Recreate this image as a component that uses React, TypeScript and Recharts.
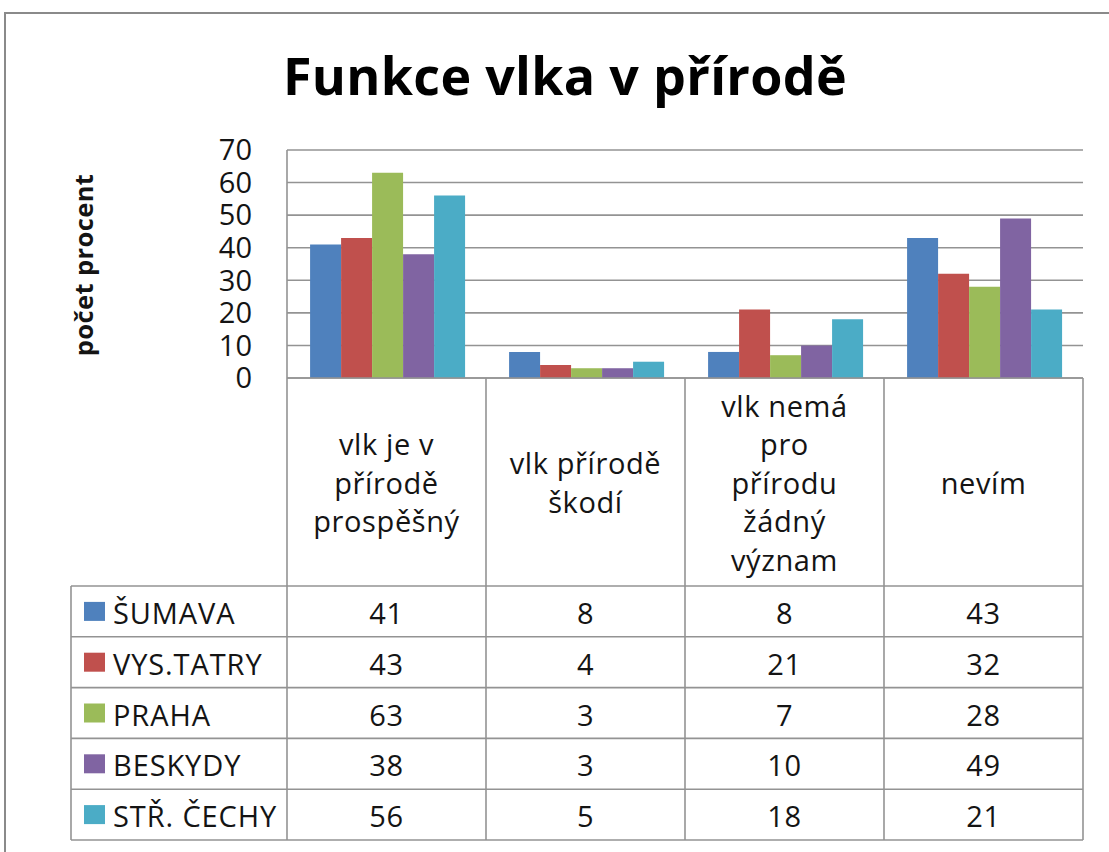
import React from 'react';
import { BarChart, Bar, XAxis, YAxis, CartesianGrid } from 'recharts';

const categories = [
  'vlk je v přírodě prospěšný',
  'vlk přírodě škodí',
  'vlk nemá pro přírodu žádný význam',
  'nevím',
];
const categoryLines = [
  ['vlk je v', 'přírodě', 'prospěšný'],
  ['vlk přírodě', 'škodí'],
  ['vlk nemá', 'pro', 'přírodu', 'žádný', 'význam'],
  ['nevím'],
];
const seriesNames = ['ŠUMAVA', 'VYS.TATRY', 'PRAHA', 'BESKYDY', 'STŘ. ČECHY'];
const sumava = [41, 8, 8, 43];
const vysTatry = [43, 4, 21, 32];
const praha = [63, 3, 7, 28];
const beskydy = [38, 3, 10, 49];
const strCechy = [56, 5, 18, 21];
const seriesValues = [sumava, vysTatry, praha, beskydy, strCechy];
const seriesColors = ['#4F81BD', '#C0504D', '#9BBB59', '#8064A2', '#4BACC6'];
const yTicks = [0, 10, 20, 30, 40, 50, 60, 70];

const data = categories.map((c, i) => {
  const row: Record<string, any> = { category: c };
  seriesNames.forEach((s, k) => {
    row[s] = seriesValues[k][i];
  });
  return row;
});

const FONT = '"Open Sans", sans-serif';
const LINE_COLOR = '#939393';
const TEXT_COLOR = '#141414';
const HEADER_H = 208;
const ROW_H = 50.8;
const LEGEND_W = 216;
const LINE_H = 38.5;

function TableTick(props: any) {
  const { x, y, payload, width } = props;
  const i: number = payload.index;
  const band: number = payload.offset ? payload.offset * 2 : width / categories.length;
  const left = x - band / 2;
  const right = x + band / 2;
  const top = y;
  const tableTop = top + HEADER_H;
  const bottom = tableTop + ROW_H * seriesNames.length;
  const lines = categoryLines[i] || [String(payload.value)];
  const midY = top + HEADER_H / 2;
  const textProps = {
    fontFamily: FONT,
    fontSize: 29,
    letterSpacing: 0.6,
    fill: TEXT_COLOR,
    textAnchor: 'middle' as const,
    dominantBaseline: 'central' as const,
  };
  const lineProps = { stroke: LINE_COLOR, strokeWidth: 1.6 };
  return (
    <g>
      <line x1={left} x2={left} y1={top} y2={bottom} {...lineProps} />
      {i === categories.length - 1 && (
        <line x1={right} x2={right} y1={top} y2={bottom} {...lineProps} />
      )}
      {lines.map((t, k) => (
        <text key={'h' + k} x={x} y={midY + (k - (lines.length - 1) / 2) * LINE_H} {...textProps}>
          {t}
        </text>
      ))}
      {seriesNames.map((name, r) => {
        const ry = tableTop + r * ROW_H;
        return (
          <g key={'r' + r}>
            <line x1={left} x2={right} y1={ry} y2={ry} {...lineProps} />
            <text x={x} y={ry + ROW_H / 2 + 1} {...textProps}>
              {seriesValues[r][i]}
            </text>
          </g>
        );
      })}
      <line x1={left} x2={right} y1={bottom} y2={bottom} {...lineProps} />
      {i === 0 && (
        <g>
          <line x1={left - LEGEND_W} x2={left - LEGEND_W} y1={tableTop} y2={bottom} {...lineProps} />
          {seriesNames.map((name, r) => {
            const ry = tableTop + r * ROW_H;
            return (
              <g key={'l' + r}>
                <line x1={left - LEGEND_W} x2={left} y1={ry} y2={ry} {...lineProps} />
                <rect
                  x={left - LEGEND_W + 13}
                  y={ry + ROW_H / 2 - 9.5}
                  width={21}
                  height={19}
                  fill={seriesColors[r]}
                />
                <text
                  x={left - LEGEND_W + 42}
                  y={ry + ROW_H / 2 + 1}
                  {...textProps}
                  letterSpacing={0.9}
                  textAnchor="start"
                >
                  {name}
                </text>
              </g>
            );
          })}
          <line x1={left - LEGEND_W} x2={left} y1={bottom} y2={bottom} {...lineProps} />
        </g>
      )}
    </g>
  );
}

function YLabel(props: any) {
  const vb = props.viewBox || { x: 0, y: 150, width: 287, height: 228 };
  const cx = vb.x + 83;
  const cy = vb.y + vb.height / 2 + 1;
  return (
    <text
      x={cx}
      y={cy}
      transform={`rotate(-90, ${cx}, ${cy})`}
      textAnchor="middle"
      dominantBaseline="central"
      fontFamily={FONT}
      fontWeight={700}
      fontSize={25.5}
      letterSpacing={0.4}
      fill={TEXT_COLOR}
    >
      počet procent
    </text>
  );
}

export default function App() {
  return (
    <div style={{ position: 'absolute', left: 0, top: 0, width: 1109, height: 852, background: '#fff', overflow: 'hidden' }}>
      <div
        style={{
          position: 'absolute',
          left: 4,
          top: 12,
          width: 1200,
          height: 900,
          borderTop: '2px solid #8a8a8a',
          borderLeft: '2px solid #8a8a8a',
        }}
      />
      <div
        style={{
          position: 'absolute',
          left: 165,
          top: 49,
          width: 800,
          textAlign: 'center',
          fontFamily: FONT,
          fontWeight: 700,
          fontSize: 52,
          lineHeight: '52px',
          letterSpacing: 0.3,
          color: '#000',
        }}
      >
        Funkce vlka v přírodě
      </div>
      <div style={{ position: 'absolute', left: 0, top: 0 }}>
        <BarChart
          width={1109}
          height={852}
          data={data}
          margin={{ top: 150, right: 26, left: 0, bottom: 0 }}
          barCategoryGap="11.6%"
          barGap={0}
        >
          <CartesianGrid vertical={false} stroke={LINE_COLOR} strokeWidth={1.6} />
          <XAxis
            dataKey="category"
            height={474}
            interval={0}
            tickLine={false}
            tickSize={0}
            tickMargin={0}
            axisLine={{ stroke: LINE_COLOR, strokeWidth: 1.6 }}
            tick={<TableTick />}
          />
          <YAxis
            width={287}
            domain={[0, 70]}
            ticks={yTicks}
            interval={0}
            tickLine={false}
            tickSize={0}
            tickMargin={35}
            axisLine={{ stroke: LINE_COLOR, strokeWidth: 1.6 }}
            tick={{ fontFamily: FONT, fontSize: 29, fill: TEXT_COLOR }}
            label={<YLabel />}
          />
          {seriesNames.map((s, k) => (
            <Bar key={s} dataKey={s} fill={seriesColors[k]} isAnimationActive={false} />
          ))}
        </BarChart>
      </div>
    </div>
  );
}
